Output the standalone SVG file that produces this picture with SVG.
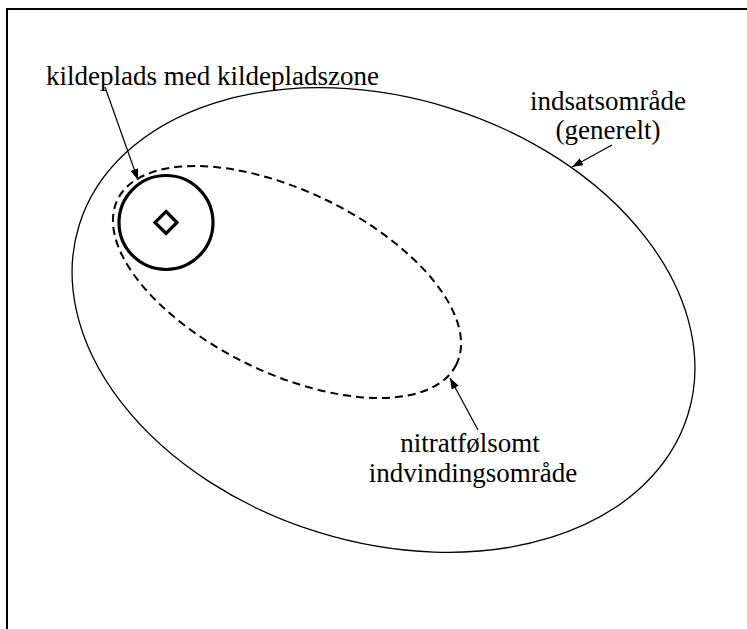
<svg xmlns="http://www.w3.org/2000/svg" width="747" height="629" viewBox="0 0 747 629">
<defs>
<style>
.lbl{font-family:'Liberation Serif','Times New Roman',serif;font-size:27px;fill:#000}
.ln{fill:none;stroke:#000}
</style>
<marker id="ah" markerUnits="userSpaceOnUse" markerWidth="11" markerHeight="8" refX="11" refY="4" orient="auto">
<path d="M0,0 L11,4 L0,8 z" fill="#000"/>
</marker>
</defs>
<rect width="747" height="629" fill="#fff"/>
<path class="ln" d="M7,629 V9 H747" stroke-width="2"/>
<g id="indsatsomraade">
<ellipse class="ln" cx="383.5" cy="320" rx="318.8" ry="222.1" transform="rotate(17.35 383.5 320)" stroke-width="1.3"/>
<text class="lbl" x="608" y="110" text-anchor="middle">indsatsområde</text>
<text class="lbl" x="608" y="139" text-anchor="middle">(generelt)</text>
</g>
<g id="nitratfoelsomt">
<ellipse class="ln" cx="287" cy="282" rx="188.4" ry="90.9" transform="rotate(25.9 287 282)" stroke-width="2" stroke-dasharray="8 5"/>
<text class="lbl" x="470" y="452" text-anchor="middle">nitratfølsomt</text>
<text class="lbl" x="473" y="482" text-anchor="middle">indvindingsområde</text>
</g>
<g id="kildeplads">
<circle class="ln" cx="166" cy="222.5" r="47" stroke-width="3.2"/>
<path class="ln" d="M166,211.5 L177,222.5 L166,233.5 L155,222.5 Z" stroke-width="3.2"/>
<text class="lbl" x="46" y="85">kildeplads med kildepladszone</text>
</g>
<g id="connectors" class="ln" stroke-width="1.2">
<line x1="105" y1="87" x2="138" y2="180" marker-end="url(#ah)"/>
<line x1="612" y1="145" x2="572" y2="167" marker-end="url(#ah)"/>
<line x1="478" y1="430" x2="450" y2="378" marker-end="url(#ah)"/>
</g>
</svg>
